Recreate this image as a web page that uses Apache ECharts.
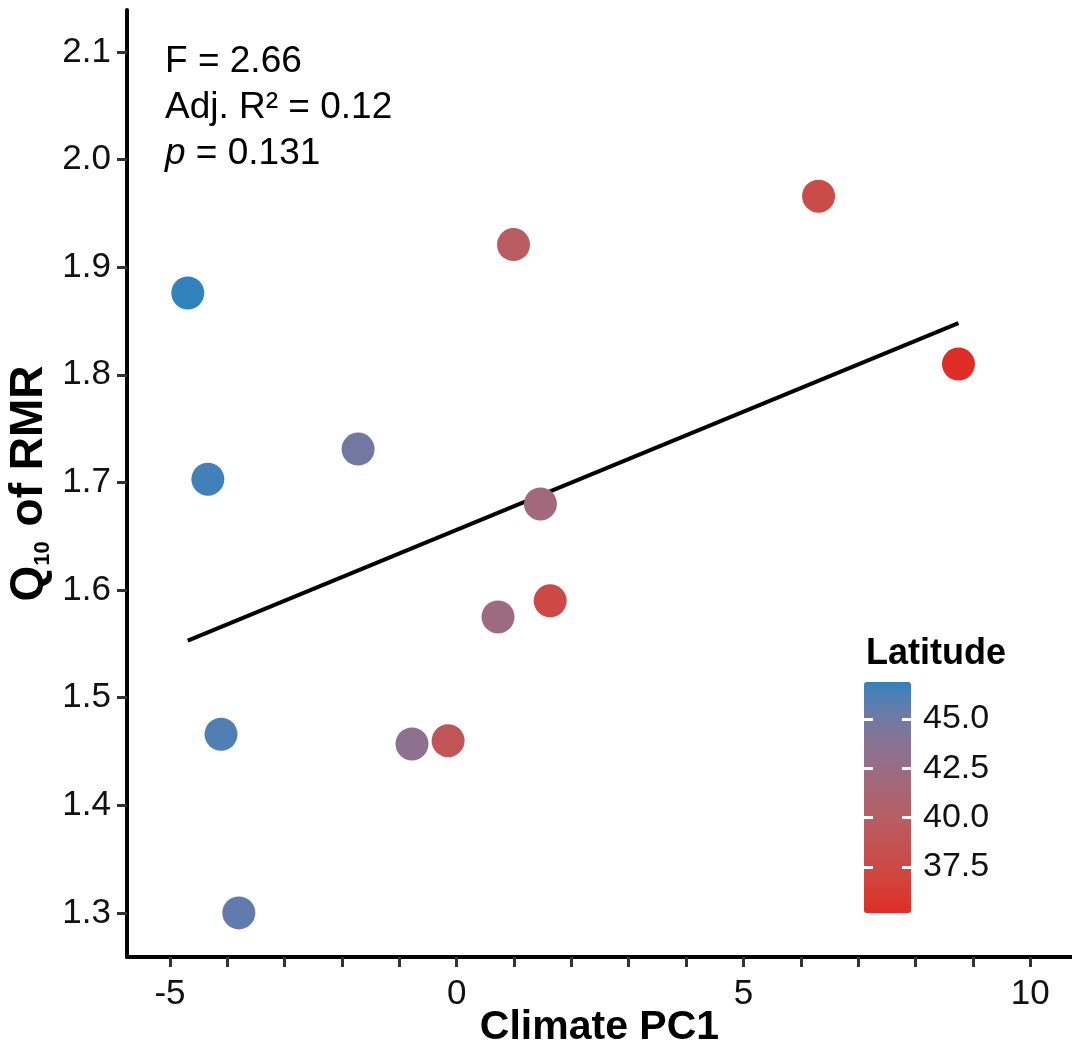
<!DOCTYPE html>
<html>
<head>
<meta charset="utf-8">
<script src="https://cdn.jsdelivr.net/npm/echarts@6/dist/echarts.min.js"></script>
<style>html,body{margin:0;padding:0;background:#fff}#c{width:1072px;height:1046px}</style>
</head>
<body>
<div id="c"></div>
<script>
// ---- data ----
const climatePC1 = [-4.69, -4.34, -4.11, -3.80, -1.72, -0.78, -0.15, 0.72, 0.99, 1.46, 1.63, 6.31, 8.75];
const q10RMR     = [1.876, 1.703, 1.466, 1.300, 1.731, 1.457, 1.460, 1.575, 1.921, 1.680, 1.590, 1.966, 1.810];
const latitude   = [46.87, 46.5, 46.2, 45.6, 44.8, 43.3, 39.0, 42.3, 39.8, 41.8, 37.5, 37.8, 35.17];
const fitX = [-4.69, 8.75];
const fitY = [1.553, 1.848];
const xTicks = [-5,-4,-3,-2,-1,0,1,2,3,4,5,6,7,8,9,10];
const xLabels = [-5, 0, 5, 10];
const yTicks = [1.3, 1.4, 1.5, 1.6, 1.7, 1.8, 1.9, 2.0, 2.1];
const latTicks = [37.5, 40.0, 42.5, 45.0];
const latMin = 35.17, latMax = 46.87;
const statLines = ['F = 2.66', 'Adj. R² = 0.12', 'p = 0.131'];

// ---- Lab colour ramp (like ggplot's gradient) ----
function hexToRgb(h){return [1,3,5].map(i=>parseInt(h.substr(i,2),16)/255);}
function lin(c){return c<=0.04045?c/12.92:Math.pow((c+0.055)/1.055,2.4);}
function gam(c){return c<=0.0031308?12.92*c:1.055*Math.pow(c,1/2.4)-0.055;}
const W=[0.95047,1,1.08883];
function toLab(h){const [r,g,b]=hexToRgb(h).map(lin);
 const X=(0.4124*r+0.3576*g+0.1805*b)/W[0],Y=(0.2126*r+0.7152*g+0.0722*b)/W[1],Z=(0.0193*r+0.1192*g+0.9505*b)/W[2];
 const f=t=>t>0.008856?Math.cbrt(t):7.787*t+16/116;
 return [116*f(Y)-16,500*(f(X)-f(Y)),200*(f(Y)-f(Z))];}
function fromLab(L,a,bb){const fy=(L+16)/116,fx=fy+a/500,fz=fy-bb/200;
 const fi=t=>t*t*t>0.008856?t*t*t:(t-16/116)/7.787;
 const X=fi(fx)*W[0],Y=fi(fy)*W[1],Z=fi(fz)*W[2];
 let r=3.2406*X-1.5372*Y-0.4986*Z,g=-0.9689*X+1.8758*Y+0.0415*Z,b=0.0557*X-0.2040*Y+1.0570*Z;
 return '#'+[r,g,b].map(v=>{v=Math.round(Math.min(1,Math.max(0,gam(v)))*255);return v.toString(16).padStart(2,'0');}).join('');}
function ramp(c1,c2,n){const a=toLab(c1),b=toLab(c2),out=[];for(let i=0;i<n;i++){const t=i/(n-1);out.push(fromLab(a[0]+(b[0]-a[0])*t,a[1]+(b[1]-a[1])*t,a[2]+(b[2]-a[2])*t));}return out;}
const rampColors = ramp('#DE2D26', '#3182BD', 21);

const FONT = '"Liberation Sans", Arial, Helvetica, sans-serif';
const chart = echarts.init(document.getElementById('c'), null, {renderer:'canvas'});
const scatterData = climatePC1.map((x,i)=>[x, q10RMR[i], latitude[i]]);
const fitData = fitX.map((x,i)=>[x, fitY[i]]);

chart.setOption({
  animation:false,
  backgroundColor:'#fff',
  textStyle:{fontFamily:FONT},
  grid:[
    {left:127, right:0, top:10, bottom:89, containLabel:false, outerBoundsMode:'none'},
    {left:864, top:682, width:47, height:231, containLabel:false, outerBoundsMode:'none'}
  ],
  xAxis:[
    {type:'value', gridIndex:0, min:-5.75, max:10.73,
     axisLine:{show:true, onZero:false, lineStyle:{color:'#000', width:4}},
     axisTick:{show:true, length:10, lineStyle:{color:'#333', width:3}, customValues:xTicks},
     axisLabel:{show:true, customValues:xLabels, fontSize:35, color:'#111', margin:20, fontFamily:FONT,
       showMinLabel:true, showMaxLabel:true},
     splitLine:{show:false},
     name:'Climate PC1', nameLocation:'middle', nameGap:50, nameMoveOverlap:false,
     nameTextStyle:{fontSize:41, fontWeight:'bold', color:'#000', fontFamily:FONT}},
    {type:'value', gridIndex:1, show:false, min:0, max:1}
  ],
  yAxis:[
    {type:'value', gridIndex:0, min:1.259, max:2.139,
     axisLine:{show:true, onZero:false, lineStyle:{color:'#000', width:4}},
     axisTick:{show:true, length:10, lineStyle:{color:'#333', width:3}, customValues:yTicks},
     axisLabel:{show:true, customValues:yTicks, fontSize:35, color:'#111', margin:16, fontFamily:FONT,
       formatter:v=>Number(v).toFixed(1)},
     splitLine:{show:false},
     name:'{q|Q}{s|10}{q| of RMR}', nameLocation:'middle', nameGap:73, nameRotate:90, nameMoveOverlap:false,
     nameTextStyle:{fontSize:46, fontWeight:'bold', color:'#000', fontFamily:FONT,
       rich:{q:{fontSize:46, fontWeight:'bold', fontFamily:FONT, color:'#000'},
             s:{fontSize:22, fontWeight:'bold', fontFamily:FONT, color:'#000', padding:[28,2,0,0]}}}},
    {type:'value', gridIndex:1, position:'left', min:latMin, max:latMax, z:10,
     axisLine:{show:false}, splitLine:{show:false},
     axisTick:{show:true, inside:true, length:47, lineStyle:{color:'#fff', width:3, type:[9,29]}, customValues:latTicks},
     axisLabel:{show:false}},
    {type:'value', gridIndex:1, position:'right', min:latMin, max:latMax, z:10,
     axisLine:{show:false}, splitLine:{show:false}, axisTick:{show:false},
     axisLabel:{show:true, customValues:latTicks, fontSize:34, color:'#111', margin:12, fontFamily:FONT,
       formatter:v=>Number(v).toFixed(1)}}
  ],
  visualMap:{
    type:'continuous', show:true, seriesIndex:0, dimension:2,
    min:latMin, max:latMax, calculable:false, orient:'vertical',
    left:864, top:682, padding:0, itemWidth:47, itemHeight:231,
    inRange:{color:rampColors}, z:2
  },
  series:[
    {type:'scatter', xAxisIndex:0, yAxisIndex:0, data:scatterData, symbolSize:33, z:5,
     itemStyle:{opacity:1}},
    {type:'line', xAxisIndex:0, yAxisIndex:0, data:fitData, symbol:'none', z:3,
     lineStyle:{color:'#000', width:4}}
  ],
  graphic:[
    {type:'text', left:165, top:43, z:20, style:{text:statLines[0], font:'37px '+FONT, fill:'#000'}},
    {type:'text', left:165, top:89, z:20, style:{text:statLines[1], font:'37px '+FONT, fill:'#000'}},
    {type:'text', left:165, top:135, z:20, style:{
      text:'{i|'+statLines[2].charAt(0)+'}{n|'+statLines[2].slice(1)+'}',
      rich:{i:{font:'italic 37px '+FONT, fill:'#000'}, n:{font:'37px '+FONT, fill:'#000'}}}},
    {type:'text', left:866, top:636, z:20, style:{text:'Latitude', font:'bold 36px '+FONT, fill:'#000'}}
  ]
});
</script>
</body>
</html>
